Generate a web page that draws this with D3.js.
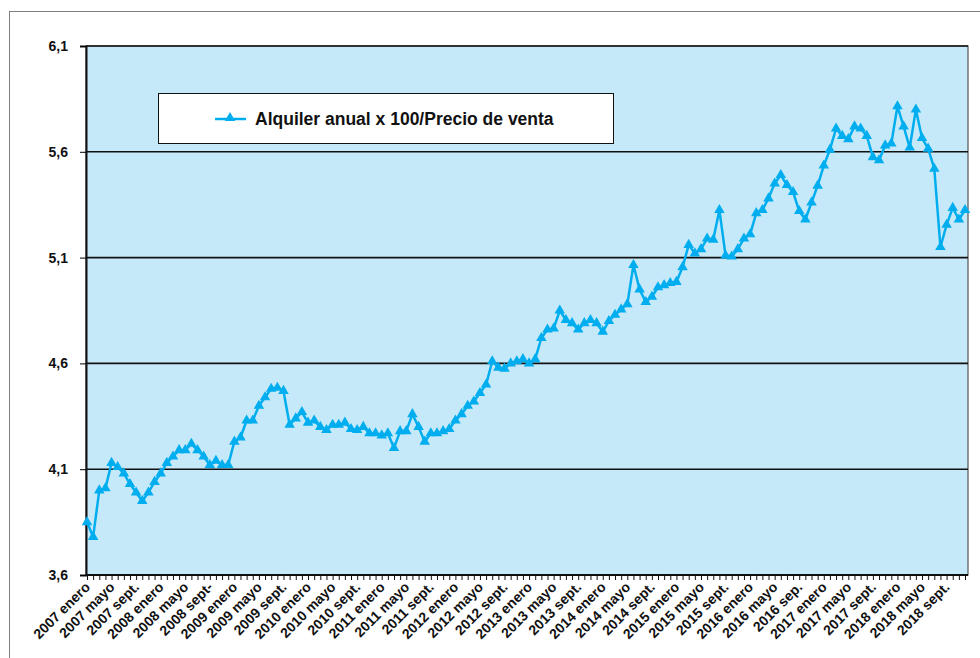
<!DOCTYPE html>
<html>
<head>
<meta charset="utf-8">
<script src="https://cdn.jsdelivr.net/npm/d3@7"></script>
<style>
  body { margin: 0; background: #fff; }
  svg { display: block; font-family: Arial, 'Liberation Sans', sans-serif; }
</style>
</head>
<body>
<div id="chart"></div>
<script>
// rent x 100 / sale price, monthly, one array per year
const v2007 = [3.85, 3.78, 4.00, 4.01, 4.13, 4.11, 4.08, 4.03, 3.99, 3.95, 3.99, 4.04]
const v2008 = [4.08, 4.13, 4.16, 4.19, 4.19, 4.22, 4.19, 4.16, 4.12, 4.14, 4.12, 4.12]
const v2009 = [4.23, 4.25, 4.33, 4.33, 4.40, 4.44, 4.48, 4.485, 4.47, 4.31, 4.34, 4.37]
const v2010 = [4.32, 4.33, 4.30, 4.285, 4.31, 4.31, 4.32, 4.29, 4.285, 4.30, 4.27, 4.27]
const v2011 = [4.26, 4.27, 4.20, 4.28, 4.28, 4.36, 4.30, 4.23, 4.27, 4.27, 4.28, 4.29]
const v2012 = [4.33, 4.36, 4.40, 4.42, 4.46, 4.50, 4.61, 4.58, 4.575, 4.60, 4.61, 4.62]
const v2013 = [4.60, 4.62, 4.72, 4.76, 4.765, 4.85, 4.805, 4.79, 4.76, 4.79, 4.805, 4.79]
const v2014 = [4.75, 4.80, 4.83, 4.855, 4.88, 5.065, 4.95, 4.89, 4.915, 4.96, 4.97, 4.98]
const v2015 = [4.985, 5.055, 5.16, 5.12, 5.14, 5.19, 5.185, 5.325, 5.11, 5.105, 5.14, 5.19]
const v2016 = [5.21, 5.31, 5.325, 5.38, 5.45, 5.49, 5.443, 5.41, 5.32, 5.28, 5.36, 5.44]
const v2017 = [5.535, 5.61, 5.71, 5.675, 5.66, 5.72, 5.71, 5.675, 5.575, 5.56, 5.63, 5.64]
const v2018 = [5.815, 5.72, 5.62, 5.80, 5.665, 5.615, 5.52, 5.15, 5.255, 5.335, 5.28, 5.325]

const values = [].concat(v2007, v2008, v2009, v2010, v2011, v2012,
  v2013, v2014, v2015, v2016, v2017, v2018)

// one label every four months, as printed
const tickLabels = [
  '2007 enero', '2007 mayo', '2007 sept.', '2008 enero', '2008 mayo', '2008 sept-',
  '2009 enero', '2009 mayo', '2009 sept.', '2010 enero', '2010 mayo', '2010 sept.',
  '2011 enero', '2011 mayo', '2011 sept.', '2012 enero', '2012 mayo', '2012 sept.',
  '2013 enero', '2013 mayo', '2013 sept.', '2014 enero', '2014 mayo', '2014 sept.',
  '2015 enero', '2015 mayo', '2015 sept.', '2016 enero', '2016 mayo', '2016 sep.',
  '2017 enero', '2017 mayo', '2017 sept.', '2018 enero', '2018 mayo', '2018 sept.'
]
const yTicks = [3.6, 4.1, 4.6, 5.1, 5.6, 6.1]
const seriesName = 'Alquiler anual x 100/Precio de venta'

const width = 980, height = 658
const plot = { left: 86, right: 968, top: 46, bottom: 575 }
const blue = '#00aeef'

const svg = d3.select('#chart').append('svg')
  .attr('width', width)
  .attr('height', height)

// outer frame
svg.append('rect')
  .attr('x', 9.5).attr('y', 11.5)
  .attr('width', 990).attr('height', 670)
  .attr('fill', '#fff')
  .attr('stroke', '#7f7f7f')

const x = d3.scaleLinear().domain([0, values.length - 1]).range([plot.left + 1, plot.right - 3])
const y = d3.scaleLinear().domain([3.6, 6.1]).range([plot.bottom, plot.top])

svg.append('rect')
  .attr('x', plot.left).attr('y', plot.top)
  .attr('width', plot.right - plot.left).attr('height', plot.bottom - plot.top)
  .attr('fill', '#c6e9f9')
  .attr('stroke', '#555')
  .attr('stroke-width', 1.2)

// gridlines
svg.append('g').selectAll('line')
  .data(yTicks.slice(1))
  .enter().append('line')
    .attr('x1', plot.left).attr('x2', plot.right)
    .attr('y1', d => y(d)).attr('y2', d => y(d))
    .attr('stroke', '#111')
    .attr('stroke-width', 1.6)

// y axis
const yAxis = svg.append('g')
  .attr('transform', `translate(${plot.left},0)`)
  .call(d3.axisLeft(y).tickValues(yTicks).tickSize(6).tickPadding(12)
    .tickFormat(d => d3.format('.1f')(d).replace('.', ',')))
yAxis.select('.domain').attr('stroke', '#111').attr('stroke-width', 2)
yAxis.selectAll('text')
  .attr('font-size', 14).attr('font-weight', 'bold').attr('fill', '#111')
  .attr('font-family', "Arial, 'Liberation Sans', sans-serif")

// x axis: a small tick every month
const xAxis = svg.append('g')
  .attr('transform', `translate(0,${plot.bottom})`)
  .call(d3.axisBottom(x).tickValues(d3.range(values.length)).tickSize(5).tickFormat(''))
xAxis.select('.domain').attr('stroke', '#111').attr('stroke-width', 2)
  .attr('d', `M${plot.left},0H${plot.right}`)
xAxis.selectAll('.tick line').attr('stroke', '#111')

svg.append('g').selectAll('text')
  .data(tickLabels)
  .enter().append('text')
    .attr('transform', (d, i) => `translate(${x(i * 4) + 4},${plot.bottom + 13}) rotate(-45)`)
    .attr('text-anchor', 'end')
    .attr('font-size', 14)
    .attr('font-weight', 'bold')
    .attr('fill', '#111')
    .text(d => d)

// series
const line = d3.line().x((d, i) => x(i)).y(d => y(d))
svg.append('path')
  .datum(values)
  .attr('d', line)
  .attr('fill', 'none')
  .attr('stroke', blue)
  .attr('stroke-width', 2.5)
  .attr('stroke-linejoin', 'round')

const tri = d3.symbol().type(d3.symbolTriangle).size(48)
svg.append('g').selectAll('path')
  .data(values)
  .enter().append('path')
    .attr('d', tri)
    .attr('transform', (d, i) => `translate(${x(i)},${y(d)})`)
    .attr('fill', blue)

// legend
const legend = svg.append('g').attr('transform', 'translate(158,93)')
legend.append('rect')
  .attr('x', 0.5).attr('y', 0.5)
  .attr('width', 455).attr('height', 50)
  .attr('fill', '#fff')
  .attr('stroke', '#111')
legend.append('line')
  .attr('x1', 57).attr('x2', 88)
  .attr('y1', 26).attr('y2', 26)
  .attr('stroke', blue).attr('stroke-width', 2.5)
legend.append('path')
  .attr('d', tri)
  .attr('transform', 'translate(72,25)')
  .attr('fill', blue)
legend.append('text')
  .attr('x', 97).attr('y', 32)
  .attr('font-size', 17.5)
  .attr('font-weight', 'bold')
  .attr('fill', '#111')
  .text(seriesName)
</script>
</body>
</html>
